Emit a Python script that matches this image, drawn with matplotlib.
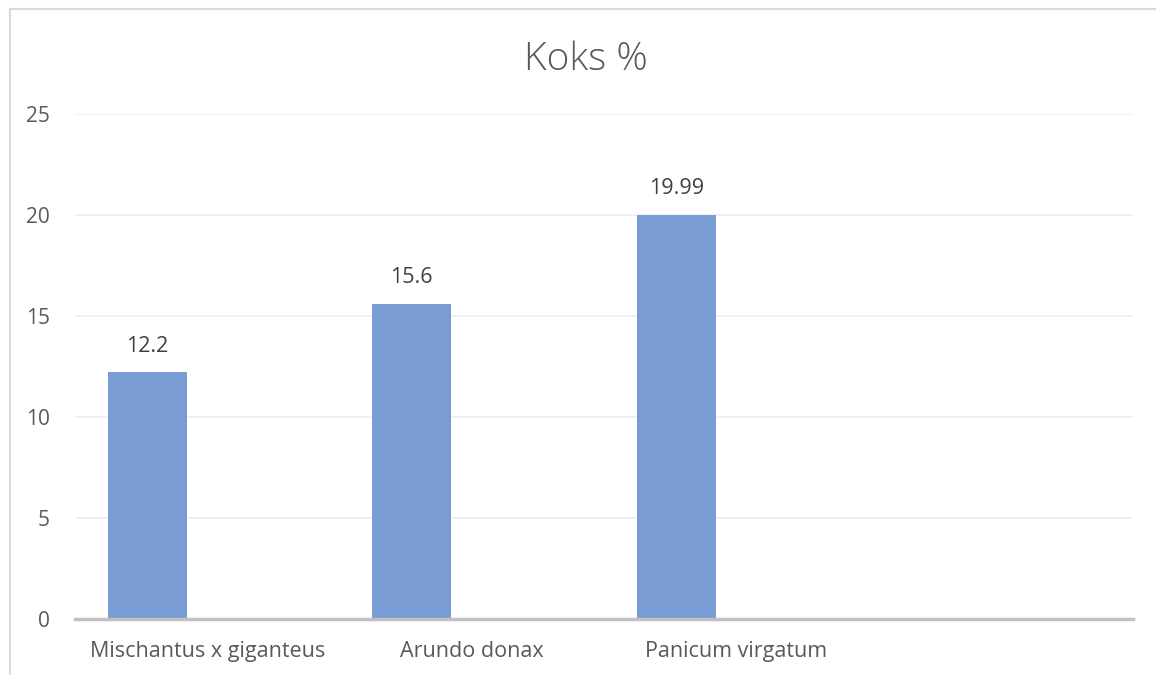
import matplotlib.pyplot as plt
from matplotlib.patches import Rectangle

categories = ['Mischantus x giganteus', 'Arundo donax', 'Panicum virgatum', '']
values = [12.2, 15.6, 19.99]
value_labels = ['12.2', '15.6', '19.99']
yticks = [0, 5, 10, 15, 20, 25]

plt.rcParams['font.family'] = ['Open Sans', 'DejaVu Sans']

fig = plt.figure(figsize=(11.56, 6.75), dpi=100)
ax = fig.add_axes([75/1156, 0.0837, (1133-75)/1156, 0.831-0.0837])

# chart frame like the excel export, only left and top edges show
fig.patches.append(Rectangle((9.5/1156, -1), 2, 1 + (675-8.5)/675, transform=fig.transFigure,
                             fill=False, edgecolor='#D9D9D9', lw=1.5))

pos = [i - 0.227 for i in range(len(values))]
ax.bar(pos, values, width=0.30, color='#7A9CD5', zorder=3)
for p, v, t in zip(pos, values, value_labels):
    ax.text(p, v + 1.3, t, ha='center', va='center', fontsize=15.5, color='#404040')

ax.set_xlim(-0.5, 3.5)
ax.set_ylim(0, 25)
ax.set_yticks(yticks)
ax.set_yticklabels([str(t) for t in yticks], fontsize=15, color='#595959')
ax.set_xticks(range(len(categories)))
ax.set_xticklabels(categories, fontsize=15.5, color='#595959')
ax.tick_params(axis='y', length=0, pad=18)
ax.tick_params(axis='x', length=0, pad=16)
ax.grid(axis='y', color='#EDEDED', lw=1.2, zorder=0)
for s in ['top', 'right', 'left']:
    ax.spines[s].set_visible(False)
ax.spines['bottom'].set_color('#C0C0C0')
ax.spines['bottom'].set_linewidth(2.5)
ax.spines['bottom'].set_zorder(4)

fig.text(586/1156, 1 - 60/675, 'Koks %', ha='center', va='center', fontsize=28,
         color='#595959', fontweight='light')

fig.savefig('out.png', dpi=100)
